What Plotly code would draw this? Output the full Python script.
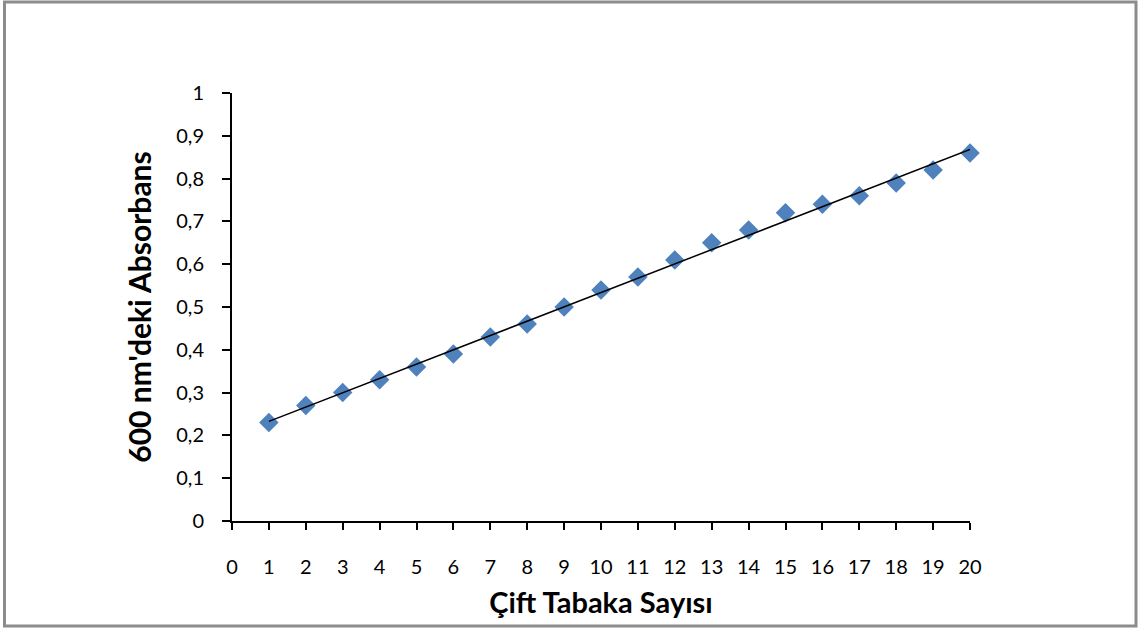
import numpy as np
import plotly.graph_objects as go

layers = list(range(1, 21))
absorbance = [0.23, 0.27, 0.30, 0.33, 0.36, 0.39, 0.43, 0.46, 0.50, 0.54,
              0.57, 0.61, 0.65, 0.68, 0.72, 0.74, 0.76, 0.79, 0.82, 0.86]
x_ticks = list(range(0, 21))
y_ticks = [0, 0.1, 0.2, 0.3, 0.4, 0.5, 0.6, 0.7, 0.8, 0.9, 1]
y_tick_labels = ["0", "0,1", "0,2", "0,3", "0,4", "0,5", "0,6", "0,7", "0,8", "0,9", "1"]
x_title = "Çift Tabaka Sayısı"
y_title = "600 nm'deki Absorbans"

slope, intercept = np.polyfit(layers, absorbance, 1)
trend_x = [layers[0], layers[-1]]
trend_y = [slope * v + intercept for v in trend_x]

W, H = 1138, 628
L, R, T, B = 232, 970, 93, 521
pw, ph = R - L, B - T

fig = go.Figure()
fig.add_trace(go.Scatter(
    x=layers, y=absorbance, mode="markers",
    marker=dict(symbol="diamond", size=15, color="#4F81BD", line=dict(width=0)),
    showlegend=False, cliponaxis=False,
))
fig.add_trace(go.Scatter(
    x=trend_x, y=trend_y, mode="lines",
    line=dict(color="black", width=1.5), showlegend=False,
))

font_family = "Lato, 'Open Sans', sans-serif"
fig.update_layout(
    width=W, height=H,
    margin=dict(l=L, r=W - R, t=T, b=H - B),
    paper_bgcolor="white", plot_bgcolor="white",
    font=dict(family=font_family, color="black", size=20),
    xaxis=dict(
        range=[0, 20], tickvals=x_ticks, ticktext=[str(v) for v in x_ticks],
        showgrid=False, zeroline=False, showline=True, linecolor="black", linewidth=2,
        ticks="outside", ticklen=7, tickwidth=2, tickcolor="black",
        ticklabelstandoff=20,
        title=dict(text=x_title, font=dict(size=29, family=font_family, weight="bold"), standoff=16),
    ),
    yaxis=dict(
        range=[0, 1], tickvals=y_ticks, ticktext=y_tick_labels,
        showgrid=False, zeroline=False, showline=True, linecolor="black", linewidth=2,
        ticks="outside", ticklen=8, tickwidth=2, tickcolor="black",
        ticklabelstandoff=14,
        title=dict(text=y_title, font=dict(size=30, family=font_family, weight="bold"), standoff=16),
    ),
)

fig.add_shape(
    type="rect", xref="paper", yref="paper",
    x0=(4.5 - L) / pw, x1=(1136 - L) / pw,
    y0=(B - 626) / ph, y1=(B - 2) / ph,
    line=dict(color="#8c8c8c", width=3), fillcolor="rgba(0,0,0,0)", layer="below",
)

fig.write_html(
    "out.html",
    config={"displayModeBar": False},
    post_script="document.body.style.margin='0';document.body.style.overflow='hidden';",
)
